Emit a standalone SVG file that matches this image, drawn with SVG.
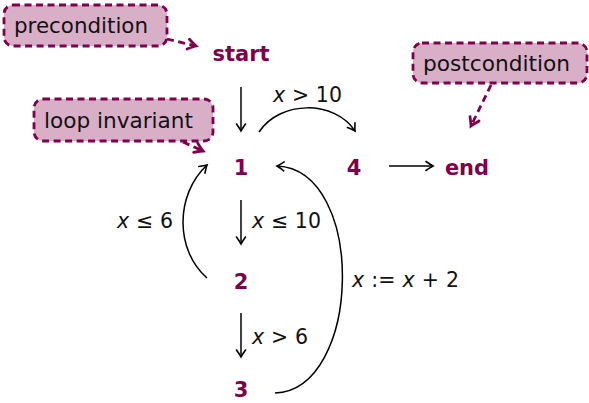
<svg xmlns="http://www.w3.org/2000/svg" width="589" height="403" viewBox="0 0 589 403">
<style>
.node{font-family:"DejaVu Sans",sans-serif;font-weight:bold;font-size:21px;fill:#7f004c;text-anchor:middle}
.note rect{fill:#d9afc8;stroke:#7f004c;stroke-width:2.8;stroke-dasharray:7,4.5}
.note text{font-family:"DejaVu Sans",sans-serif;font-size:22px;fill:#111}
.lbl{font-family:"DejaVu Sans",sans-serif;font-size:20.5px;fill:#111}
.v{font-style:italic}
.edge{fill:none;stroke:#000;stroke-width:1.5}
.dash{fill:none;stroke:#7f004c;stroke-width:2.8;stroke-dasharray:7,4.5}
</style>
<defs>
<marker id="ah" markerUnits="userSpaceOnUse" markerWidth="14" markerHeight="14" viewBox="-10 -7 12 14" refX="0" refY="0" orient="auto">
<path d="M-7,-4.5 Q-2,-1 0,0 Q-2,1 -7,4.5" fill="none" stroke="#000" stroke-width="1.6" stroke-linecap="round"/>
</marker>
<marker id="ahp" markerUnits="userSpaceOnUse" markerWidth="16" markerHeight="16" viewBox="-11 -8 13 16" refX="0" refY="0" orient="auto">
<path d="M-8,-5 Q-2,-1 0,0 Q-2,1 -8,5" fill="none" stroke="#7f004c" stroke-width="2.8" stroke-linecap="round"/>
</marker>
</defs>
<g id="connectors">
<path class="edge" d="M241,87 L241,131" marker-end="url(#ah)"/>
<path class="edge" d="M259,132 C280,100 335,100 355,131" marker-end="url(#ah)"/>
<path class="edge" d="M389,166 L433,166" marker-end="url(#ah)"/>
<path class="edge" d="M241,200 L241,244" marker-end="url(#ah)"/>
<path class="edge" d="M241,313 L241,357" marker-end="url(#ah)"/>
<path class="edge" d="M207,278 C175,250 175,195 207,165" marker-end="url(#ah)"/>
<path class="edge" d="M275,393 C362,390 367,170 277,166" marker-end="url(#ah)"/>
<path class="dash" d="M167,39 L196,46" marker-end="url(#ahp)"/>
<path class="dash" d="M183,142 L203,151" marker-end="url(#ahp)"/>
<path class="dash" d="M491,85 L471,126" marker-end="url(#ahp)"/>
<text class="lbl" x="273" y="102" textLength="69"><tspan class="v">x</tspan> &gt; 10</text>
<text class="lbl" x="252" y="228" textLength="69"><tspan class="v">x</tspan> ≤ 10</text>
<text class="lbl" x="117" y="228" textLength="56"><tspan class="v">x</tspan> ≤ 6</text>
<text class="lbl" x="252" y="344" textLength="56"><tspan class="v">x</tspan> &gt; 6</text>
<text class="lbl" x="352" y="287" textLength="107"><tspan class="v">x</tspan> := <tspan class="v">x</tspan> + 2</text>
</g>
<g id="start"><text class="node" x="241" y="61">start</text></g>
<g id="n1"><text class="node" x="241" y="175">1</text></g>
<g id="n2"><text class="node" x="241" y="289">2</text></g>
<g id="n3"><text class="node" x="241" y="397">3</text></g>
<g id="n4"><text class="node" x="354" y="175">4</text></g>
<g id="end"><text class="node" x="467" y="175">end</text></g>
<g id="precondition" class="note"><rect x="4" y="5" width="163" height="41" rx="9"/><text x="14" y="33" textLength="134" lengthAdjust="spacingAndGlyphs">precondition</text></g>
<g id="loopinvariant" class="note"><rect x="34" y="99" width="179" height="42" rx="9"/><text x="44" y="128" textLength="149" lengthAdjust="spacingAndGlyphs">loop invariant</text></g>
<g id="postcondition" class="note"><rect x="413" y="43" width="174" height="40" rx="9"/><text x="423" y="71" textLength="147" lengthAdjust="spacingAndGlyphs">postcondition</text></g>
</svg>
